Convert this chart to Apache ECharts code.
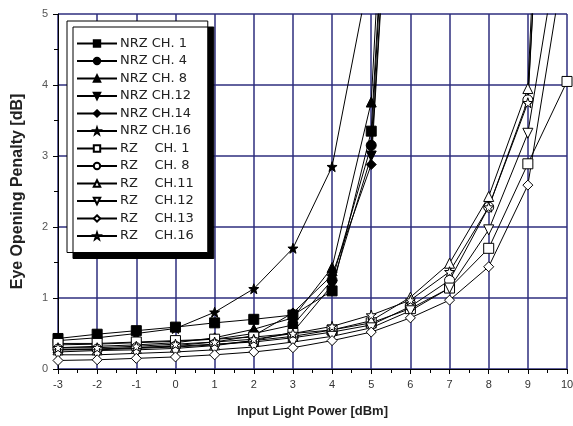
<!DOCTYPE html>
<html>
<head>
<meta charset="utf-8">
<script src="https://cdn.jsdelivr.net/npm/echarts@6/dist/echarts.min.js"></script>
<style>
  html, body { margin: 0; padding: 0; background: #fff; }
  #chart { width: 573px; height: 426px; }
</style>
</head>
<body>
<div id="chart"></div>
<script>
// input light power [dBm]
const power = [-3, -2, -1, 0, 1, 2, 3, 4, 5, 6, 7, 8, 9, 10];

// NRZ channels (eye opening penalty, dB)
const nrzCh1 = [0.43, 0.49, 0.54, 0.59, 0.65, 0.70, 0.76, 1.10, 3.35, 13];
const nrzCh4 = [0.34, 0.35, 0.37, 0.39, 0.42, 0.50, 0.62, 1.25, 3.15, 13];
const nrzCh8 = [0.30, 0.32, 0.34, 0.37, 0.44, 0.56, 0.72, 1.43, 3.76, 14];
const nrzCh12 = [0.24, 0.26, 0.27, 0.29, 0.33, 0.40, 0.52, 1.18, 3.00, 12];
const nrzCh14 = [0.27, 0.28, 0.30, 0.33, 0.38, 0.47, 0.79, 1.32, 2.88, 12];
const nrzCh16 = [0.40, 0.44, 0.50, 0.57, 0.80, 1.13, 1.70, 2.85, 5.70];

// RZ channels
const rzCh1 = [0.36, 0.36, 0.38, 0.40, 0.42, 0.45, 0.50, 0.55, 0.65, 0.85, 1.14, 1.70, 2.89, 4.05];
const rzCh8 = [0.28, 0.28, 0.30, 0.32, 0.35, 0.38, 0.44, 0.52, 0.62, 0.88, 1.25, 2.28, 3.79, 14];
const rzCh11 = [0.27, 0.27, 0.29, 0.31, 0.34, 0.40, 0.46, 0.55, 0.68, 1.01, 1.49, 2.43, 3.95, 16];
const rzCh12 = [0.20, 0.20, 0.22, 0.24, 0.27, 0.31, 0.38, 0.46, 0.58, 0.82, 1.14, 1.96, 3.32, 6.7];
const rzCh13 = [0.12, 0.13, 0.15, 0.17, 0.20, 0.24, 0.30, 0.40, 0.52, 0.72, 0.97, 1.44, 2.59, 6.0];
const rzCh16 = [0.30, 0.30, 0.32, 0.35, 0.38, 0.42, 0.50, 0.60, 0.76, 0.97, 1.37, 2.28, 3.75, 14];

const star = 'path://M0,-10L2.35,-3.24L9.51,-3.09L3.8,1.24L5.88,8.09L0,4L-5.88,8.09L-3.8,1.24L-9.51,-3.09L-2.35,-3.24Z';

const pairs = vals => vals.map((v, i) => [power[i], v]);

const mk = (name, vals, symbol, filled, rotate) => ({
    name: name,
    type: 'line',
    data: pairs(vals),
    symbol: symbol,
    symbolSize: 10,
    symbolRotate: rotate || 0,
    showAllSymbol: true,
    lineStyle: { color: '#000', width: 1 },
    itemStyle: {
        color: filled ? '#000' : '#fff',
        borderColor: '#000',
        borderWidth: 1
    },
    emphasis: { disabled: true }
});

let series = [
    mk('NRZ CH. 1', nrzCh1, 'rect', true),
    mk('NRZ CH. 4', nrzCh4, 'circle', true),
    mk('NRZ CH. 8', nrzCh8, 'triangle', true),
    mk('NRZ CH.12', nrzCh12, 'triangle', true, 180),
    mk('NRZ CH.14', nrzCh14, 'diamond', true),
    mk('NRZ CH.16', nrzCh16, star, true),
    mk('RZ CH. 1', rzCh1, 'rect', false),
    mk('RZ CH. 8', rzCh8, 'circle', false),
    mk('RZ CH.11', rzCh11, 'triangle', false),
    mk('RZ CH.12', rzCh12, 'triangle', false, 180),
    mk('RZ CH.13', rzCh13, 'diamond', false),
    mk('RZ CH.16', rzCh16, star, false)
];

let gridColor = '#2e2e7e';

let option = {
    animation: false,
    textStyle: { fontFamily: 'Liberation Sans' },
    grid: { left: 58, right: 6, top: 14, bottom: 57, outerBoundsMode: 'none' },
    legend: {
        orient: 'vertical',
        left: 67,
        top: 21,
        padding: [16, 14, 10, 9],
        itemGap: 4.5,
        itemWidth: 40,
        itemHeight: 8,
        backgroundColor: '#fff',
        borderColor: '#000',
        borderWidth: 1,
        shadowColor: '#000',
        shadowBlur: 0,
        shadowOffsetX: 6,
        shadowOffsetY: 6,
        selectedMode: false,
        formatter: name => name.indexOf('RZ') === 0 ? name.replace('RZ ', 'RZ    ') : name,
        textStyle: { fontFamily: 'DejaVu Sans', fontSize: 13, color: '#222', padding: [0, 0, 0, -2] }
    },
    xAxis: {
        type: 'value',
        min: -3,
        max: 10,
        interval: 1,
        name: 'Input Light Power [dBm]',
        nameLocation: 'middle',
        nameGap: 36,
        nameTextStyle: { fontSize: 13, fontWeight: 'bold', color: '#222' },
        axisLine: { show: true, onZero: false, lineStyle: { color: '#000', width: 1 } },
        axisTick: { show: true, length: 5, lineStyle: { color: '#000' } },
        minorTick: { show: true, splitNumber: 2, length: 4, lineStyle: { color: '#000' } },
        axisLabel: { fontSize: 11, color: '#333', margin: 10 },
        splitLine: { show: true, lineStyle: { color: gridColor, width: 1.5 } }
    },
    yAxis: {
        type: 'value',
        min: 0,
        max: 5,
        interval: 1,
        name: 'Eye Opening Penalty [dB]',
        nameLocation: 'middle',
        nameGap: 32,
        nameTextStyle: { fontSize: 16, fontWeight: 'bold', color: '#222' },
        axisLine: { show: true, onZero: false, lineStyle: { color: '#000', width: 1 } },
        axisTick: { show: true, length: 5, lineStyle: { color: '#000' } },
        minorTick: { show: true, splitNumber: 2, length: 4, lineStyle: { color: '#000' } },
        axisLabel: { fontSize: 11, color: '#555', margin: 10 },
        splitLine: { show: true, lineStyle: { color: gridColor, width: 1.5 } }
    },
    series: series
};

let myChart = echarts.init(document.getElementById('chart'));
myChart.setOption(option);
</script>
</body>
</html>
